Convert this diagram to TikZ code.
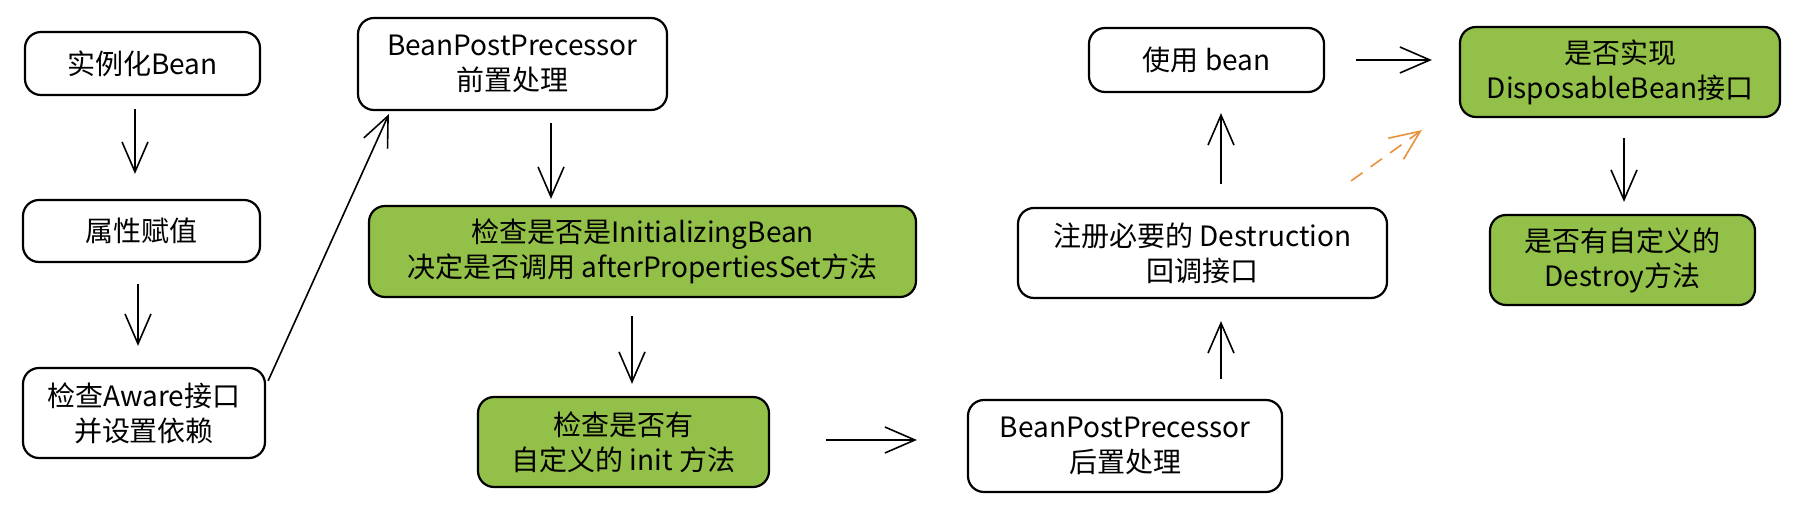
\documentclass[tikz,border=0pt]{standalone}
\usepackage{fontspec}
\setmainfont{Noto Sans CJK SC}
\usetikzlibrary{arrows.meta}
\definecolor{boxgreen}{RGB}{147,192,72}
\definecolor{arrorange}{RGB}{232,145,58}
\begin{document}
\begin{tikzpicture}[x=0.5pt,y=-0.5pt,
  box/.style={draw=black, line width=1.1pt, rounded corners=8pt, align=center, inner sep=0pt,
    font=\fontsize{14}{17.5}\selectfont, text=black},
  wbox/.style={box, fill=white},
  gbox/.style={box, fill=boxgreen},
  arr/.style={line width=0.8pt, -{Straight Barb[length=15pt,width=13pt,line width=0.8pt]}},
  oarr/.style={arr, draw=arrorange, dash pattern=on 7pt off 5pt}
]
\useasboundingbox[fill=white] (0,0) rectangle (1806,512);

\node[wbox, minimum width=117.5pt, minimum height=31.5pt] (inst) at (142.5,63.5) {实例化Bean};
\node[wbox, minimum width=118.5pt, minimum height=31pt] (prop) at (141.5,231) {属性赋值};
\node[wbox, minimum width=121pt, minimum height=45pt] (aware) at (144,413) {检查Aware接口\\并设置依赖};
\node[wbox, minimum width=154.5pt, minimum height=46pt] (bpp1) at (512.5,64) {BeanPostPrecessor\\前置处理};
\node[gbox, minimum width=273.5pt, minimum height=45.5pt] (init) at (642.5,251.5) {检查是否是InitializingBean\\决定是否调用 afterPropertiesSet方法};
\node[gbox, minimum width=145.5pt, minimum height=45pt] (custinit) at (623.5,442) {检查是否有\\自定义的 init 方法};
\node[wbox, minimum width=157pt, minimum height=46pt] (bpp2) at (1125,446) {BeanPostPrecessor\\后置处理};
\node[wbox, minimum width=184.5pt, minimum height=45pt] (destr) at (1202.5,253) {注册必要的 Destruction\\回调接口};
\node[wbox, minimum width=117.5pt, minimum height=32pt] (use) at (1206.5,60) {使用 bean};
\node[gbox, minimum width=160pt, minimum height=45pt] (disp) at (1620,72) {是否实现\\DisposableBean接口};
\node[gbox, minimum width=132.5pt, minimum height=45pt] (destroy) at (1622.5,260) {是否有自定义的\\Destroy方法};

\draw[arr] ([xshift=-3.75pt,yshift=-6.5pt]inst.south) -- ([xshift=-3.25pt,yshift=12.5pt]prop.north);
\draw[arr] ([xshift=-1.75pt,yshift=-10.5pt]prop.south) -- ([xshift=-3pt,yshift=10.5pt]aware.north);
\draw[arr] ([xshift=1pt,yshift=-7pt]aware.north east) -- ([xshift=16pt,yshift=-1.5pt]bpp1.south west);
\draw[arr] ([xshift=19.25pt,yshift=-6pt]bpp1.south) -- ([xshift=-45.75pt,yshift=3pt]init.north);
\draw[arr] ([xshift=-5.25pt,yshift=-9pt]init.south) -- ([xshift=4.25pt,yshift=6pt]custinit.north);
\draw[arr] ([xshift=28pt,yshift=1pt]custinit.east) -- ([xshift=-25pt,yshift=3pt]bpp2.west);
\draw[arr] ([xshift=48pt,yshift=10pt]bpp2.north) -- ([xshift=9.25pt,yshift=-11pt]destr.south);
\draw[arr] ([xshift=9.25pt,yshift=11.5pt]destr.north) -- ([xshift=7.25pt,yshift=-10pt]use.south);
\draw[arr] ([xshift=15.5pt]use.east) -- ([xshift=-13.5pt,yshift=6pt]disp.west);
\draw[oarr] ([xshift=-18.5pt,yshift=13pt]destr.north east) -- ([xshift=-18.5pt,yshift=-6pt]disp.south west);
\draw[arr] ([xshift=2pt,yshift=-10pt]disp.south) -- ([xshift=0.75pt,yshift=6pt]destroy.north);
\end{tikzpicture}
\end{document}
